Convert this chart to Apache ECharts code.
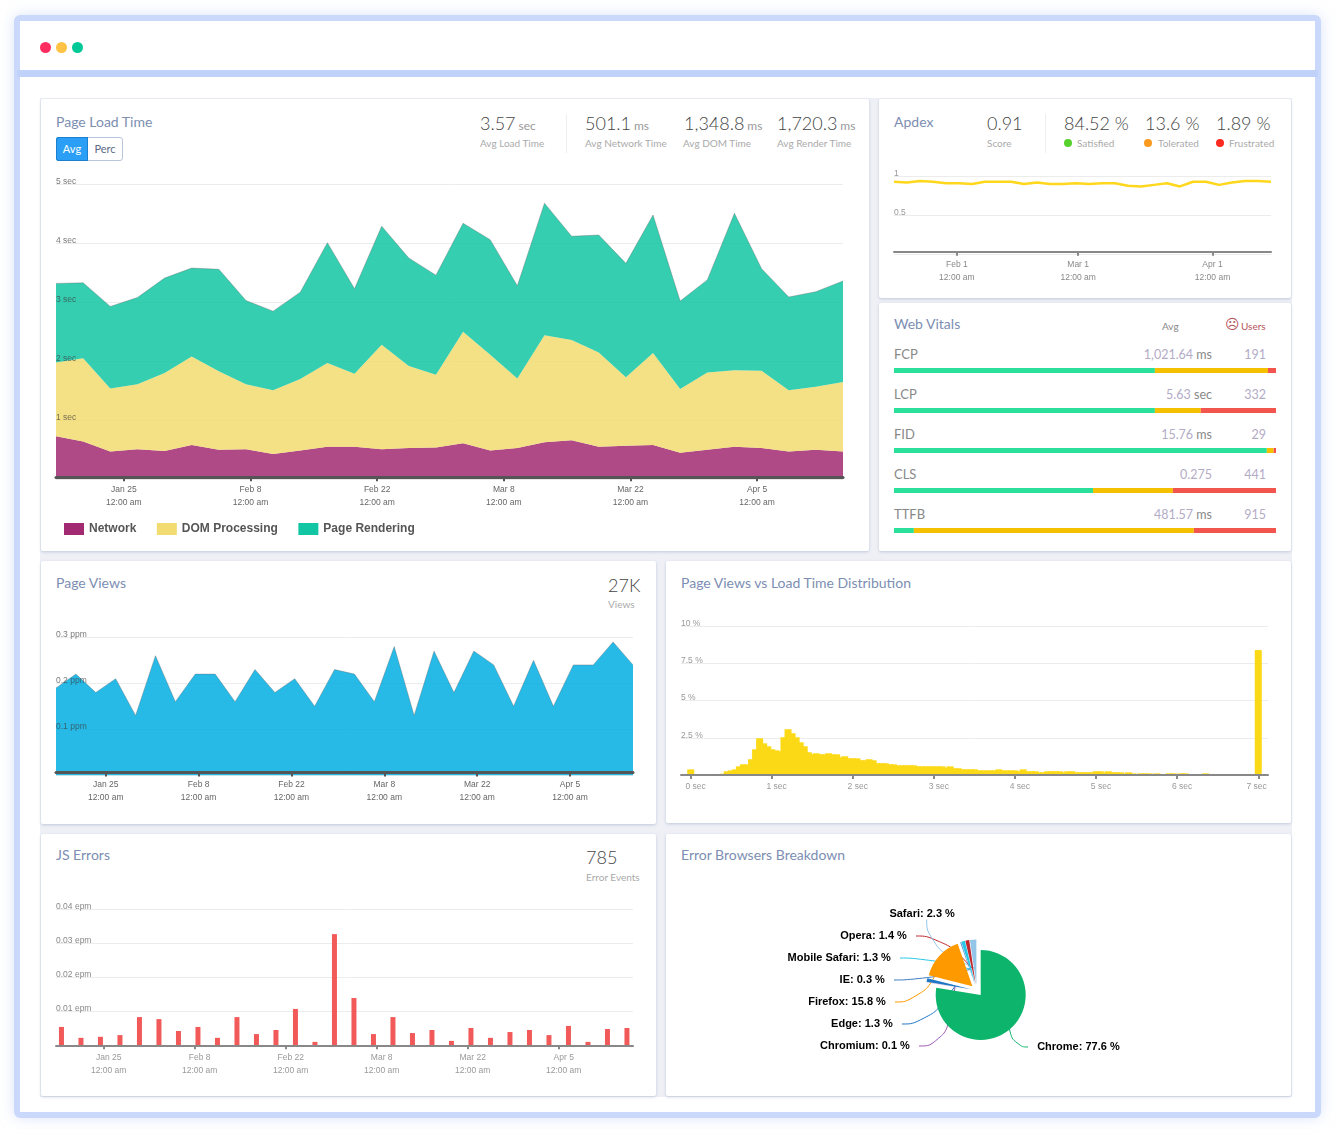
<!DOCTYPE html>
<html>
<head>
<meta charset="utf-8">
<title>Dashboard</title>
<script src="https://cdn.jsdelivr.net/npm/echarts@6/dist/echarts.min.js"></script>
<style>
	html, body { margin: 0; padding: 0; background: #fff; width: 1341px; height: 1137px; overflow: hidden; font-family: Lato, sans-serif; }
	#frame { position: absolute; left: 14px; top: 15px; width: 1295px; height: 1091px; border: 6px solid #c9d8fb; border-radius: 6px; box-shadow: 0 0 14px rgba(190, 205, 245, .55); }
	#sep { position: absolute; left: 17px; top: 70px; width: 1301px; height: 7px; background: #c1d2fa; }
	#gutter { position: absolute; left: 40px; top: 98px; width: 1252px; height: 999px; background: #eef0f6; }
	.dot { position: absolute; width: 11px; height: 11px; border-radius: 50%; top: 42px; }
	.card { position: absolute; background: #fff; border-radius: 2px; box-shadow: 0 1px 3px rgba(90, 105, 150, .3); }
	.t { position: absolute; white-space: nowrap; line-height: 1; transform: translateY(-50%); }
	.r { transform: translate(-100%, -50%); }
	.title { font-size: 14px; color: #7c8eb2; }
	.num { font-size: 18px; font-weight: 300; color: #444; }
	.num small { font-size: 12px; font-weight: 400; color: #999; margin-left: 3px; }
	.sub { font-size: 10px; color: #aaa; }
	.row { font-size: 13px; color: #888; }
	.val { font-size: 12.5px; color: #888; margin-top: 1px; }
	.val b { font-weight: normal; color: #b3abc6; }
	.mark { position: absolute; width: 8px; height: 8px; border-radius: 50%; top: 139px; }
	.line { position: absolute; width: 1px; background: #eee; top: 114px; height: 39px; }
	#btn { position: absolute; left: 56px; top: 137px; width: 65px; height: 22px; border: 1px solid #b9c5dc; border-radius: 3px; }
	#btn div { position: absolute; top: -1px; height: 24px; line-height: 24px; text-align: center; font-size: 11px; }
	#chart { position: absolute; left: 0; top: 0; width: 1341px; height: 1137px; }
</style>
</head>
<body>
<div id="frame"></div>
<div id="sep"></div>
<div class="dot" style="left:40px;background:#ff2d5f"></div>
<div class="dot" style="left:56px;background:#ffc244"></div>
<div class="dot" style="left:72px;background:#00c896"></div>

<div id="gutter"></div>
<div class="card" style="left:41px;top:99px;width:828px;height:452px"></div>
<div class="card" style="left:879px;top:99px;width:412px;height:199px"></div>
<div class="card" style="left:879px;top:303px;width:412px;height:248px"></div>
<div class="card" style="left:41px;top:561px;width:615px;height:263px"></div>
<div class="card" style="left:666px;top:561px;width:625px;height:262px"></div>
<div class="card" style="left:41px;top:834px;width:615px;height:262px"></div>
<div class="card" style="left:666px;top:834px;width:625px;height:262px"></div>

<!-- Page Load Time -->
<div class="t title" style="left:56px;top:122px">Page Load Time</div>
<div id="btn">
	<div style="left:-1px;width:32px;background:#2b9ff5;color:#fff;border-radius:3px 0 0 3px;box-shadow:inset 0 0 0 1px #1b80d0">Avg</div>
	<div style="left:31px;width:34px;color:#5b6b85">Perc</div>
</div>
<div class="t num" style="left:480px;top:123px">3.57<small>sec</small></div>
<div class="t sub" style="left:480px;top:143px">Avg Load Time</div>
<div class="line" style="left:566px"></div>
<div class="t num" style="left:585px;top:123px">501.1<small>ms</small></div>
<div class="t sub" style="left:585px;top:143px">Avg Network Time</div>
<div class="t num" style="left:684px;top:123px">1,348.8<small>ms</small></div>
<div class="t sub" style="left:683px;top:143px">Avg DOM Time</div>
<div class="t num" style="left:777px;top:123px">1,720.3<small>ms</small></div>
<div class="t sub" style="left:777px;top:143px">Avg Render Time</div>

<!-- Apdex -->
<div class="t title" style="left:894px;top:122px">Apdex</div>
<div class="t num" style="left:987px;top:123px">0.91</div>
<div class="t sub" style="left:987px;top:143px">Score</div>
<div class="line" style="left:1045px"></div>
<div class="t num" style="left:1064px;top:123px">84.52 %</div>
<div class="mark" style="left:1064px;background:#57d12e"></div>
<div class="t sub" style="left:1077px;top:143px">Satisfied</div>
<div class="t num" style="left:1145px;top:123px">13.6 %</div>
<div class="mark" style="left:1144px;background:#fb9a1e"></div>
<div class="t sub" style="left:1158px;top:143px">Tolerated</div>
<div class="t num" style="left:1216px;top:123px">1.89 %</div>
<div class="mark" style="left:1216px;background:#ff2a1f"></div>
<div class="t sub" style="left:1229px;top:143px">Frustrated</div>

<!-- Web Vitals -->
<div class="t title" style="left:894px;top:324px">Web Vitals</div>
<div class="t sub" style="left:1162px;top:326px;color:#888">Avg</div>
<div class="t" style="left:1225px;top:324px;font:14px 'DejaVu Sans';color:#b5555a">☹</div>
<div class="t sub" style="left:1241px;top:326px;color:#b5555a">Users</div>
<div class="t row" style="left:894px;top:354px">FCP</div>
<div class="t r val" style="left:1212px;top:354px"><b>1,021.64</b> ms</div>
<div class="t r val" style="left:1266px;top:354px"><b>191</b></div>
<div class="t row" style="left:894px;top:394px">LCP</div>
<div class="t r val" style="left:1212px;top:394px"><b>5.63</b> sec</div>
<div class="t r val" style="left:1266px;top:394px"><b>332</b></div>
<div class="t row" style="left:894px;top:434px">FID</div>
<div class="t r val" style="left:1212px;top:434px"><b>15.76</b> ms</div>
<div class="t r val" style="left:1266px;top:434px"><b>29</b></div>
<div class="t row" style="left:894px;top:474px">CLS</div>
<div class="t r val" style="left:1212px;top:474px"><b>0.275</b></div>
<div class="t r val" style="left:1266px;top:474px"><b>441</b></div>
<div class="t row" style="left:894px;top:514px">TTFB</div>
<div class="t r val" style="left:1212px;top:514px"><b>481.57</b> ms</div>
<div class="t r val" style="left:1266px;top:514px"><b>915</b></div>

<!-- lower cards -->
<div class="t title" style="left:56px;top:583px">Page Views</div>
<div class="t num" style="left:608px;top:585px">27K</div>
<div class="t sub" style="left:608px;top:604px">Views</div>
<div class="t title" style="left:681px;top:583px">Page Views vs Load Time Distribution</div>
<div class="t title" style="left:56px;top:855px">JS Errors</div>
<div class="t num" style="left:586px;top:857px">785</div>
<div class="t sub" style="left:586px;top:877px">Error Events</div>
<div class="t title" style="left:681px;top:855px">Error Browsers Breakdown</div>

<div id="chart"></div>

<script>
	//load time, seconds per 3 day bucket
	var networkTime = [.73, .64, .47, .51, .48, .58, .50, .51, .43, .49, .55, .55, .51, .53, .54, .61, .49, .53, .63, .66, .55, .57, .58, .45, .50, .55, .53, .47, .50, .47];
	var domTime = [1.25, 1.41, 1.07, 1.10, 1.32, 1.50, 1.33, 1.10, 1.08, 1.21, 1.42, 1.24, 1.77, 1.39, 1.23, 1.89, 1.62, 1.18, 1.81, 1.70, 1.60, 1.16, 1.56, 1.08, 1.31, 1.30, 1.31, 1.04, 1.07, 1.18];
	var renderTime = [1.34, 1.28, 1.39, 1.47, 1.61, 1.50, 1.73, 1.42, 1.34, 1.47, 2.04, 1.44, 2.01, 1.83, 1.69, 1.84, 1.95, 1.57, 2.24, 1.76, 1.99, 1.93, 2.34, 1.49, 1.57, 2.66, 1.73, 1.58, 1.61, 1.71];
	var apdexScore = [.93, .92, .94, .93, .91, .91, .90, .93, .93, .93, .90, .92, .90, .90, .91, .90, .91, .91, .88, .87, .89, .91, .87, .93, .93, .89, .92, .94, .94, .93];
	var pageViews = [.19, .22, .18, .21, .13, .26, .16, .22, .22, .16, .23, .18, .21, .15, .23, .22, .16, .28, .13, .27, .18, .27, .24, .15, .25, .15, .24, .24, .29, .24];
	var jsErrors = [.0054, .0022, .0025, .003, .0083, .0077, .0042, .0054, .0022, .0083, .0033, .0045, .0107, .001, .0327, .0139, .0033, .0083, .0036, .0045, .0013, .0051, .0022, .0039, .0045, .003, .0057, .001, .0048, .0051];

	//share of views per 0.05 sec bin, 0 to 7 sec
	var distShare = [
		.38, 0, 0, 0, 0, 0, 0, 0, .09, .25,
		.31, .38, .58, .72, .70, 1.06, 1.73, 2.47, 2.13, 1.93,
		1.73, 1.66, 1.6, 2.54, 3.08, 2.81, 2.54, 2.2, 1.93, 1.53,
		1.4, 1.46, 1.39, 1.39, 1.46, 1.39, 1.39, 1.19, 1.26, 1.12,
		1.12, 1.12, .99, .99, 1.06, .99, .79, .79, .79, .72,
		.72, .65, .65, .65, .65, .65, .58, .58, .58, .58,
		.58, .58, .58, .5, .58, .45, .45, .38, .38, .38,
		.38, .31, .31, .31, .31, .31, .38, .31, .31, .31,
		.31, .25, .38, .25, .25, .25, .18, .18, .25, .25,
		.25, .25, .18, .25, .25, .18, .18, .18, .18, .18,
		.25, .25, .18, .25, .18, .18, .18, .11, .18, .11,
		.07, .11, .11, .11, .07, .11, 0, 0, .11, .11,
		0, .11, .11, 0, 0, 0, 0, .11, 0, 0,
		0, 0, 0, 0, 0, 0, 0, 0, 0, 0,
		8.4
	];

	var vitalNames = ['FCP', 'LCP', 'FID', 'CLS', 'TTFB'];
	var vitalGood = [68.3, 68.3, 97.6, 52.1, 5.2];
	var vitalOk = [29.6, 12.0, 1.8, 20.9, 73.3];
	var vitalBad = [2.1, 19.7, .6, 27.0, 21.5];

	var browserNames = ['Chrome', 'Chromium', 'Edge', 'Firefox', 'IE', 'Mobile Safari', 'Opera', 'Safari'];
	var browserShare = [77.6, .1, 1.3, 15.8, .3, 1.3, 1.4, 2.3];
	var browserColors = ['#0db56c', '#9b59b6', '#1f77c4', '#ff9900', '#3d7cc0', '#26c6e6', '#c0282d', '#92c5e8'];

	//x axes count days from Jan 25
	var weekLabels = ['Jan 25', 'Feb 8', 'Feb 22', 'Mar 8', 'Mar 22', 'Apr 5'];
	var weekDays = [0, 14, 28, 42, 56, 70];
	var monthLabels = ['Feb 1', 'Mar 1', 'Apr 1'];
	var monthDays = [7, 35, 66];
	var secLabels = ['0 sec', '1 sec', '2 sec', '3 sec', '4 sec', '5 sec', '6 sec', '7 sec'];
	var secTicks = [0, 1, 2, 3, 4, 5, 6, 7];
	var secSpots = [.06, 1.06, 2.06, 3.06, 4.06, 5.06, 6.06, 6.98];

	//buckets every 3 days
	function timed(list, firstDay) {
		return list.map(function (v, i) { return [firstDay + 3 * i, v]; });
	}

	function timeAxis(gridIndex, days, labels, minDay, maxDay, offset, color, lineColor, lineWidth, padLeft) {
		return {
			type: 'value', gridIndex: gridIndex, position: 'bottom', offset: offset, min: minDay, max: maxDay, z: 5,
			axisLine: { onZero: false, lineStyle: { color: lineColor, width: lineWidth } },
			axisTick: { customValues: days, length: 4, lineStyle: { color: lineColor, width: 2 } },
			splitLine: { show: false },
			axisLabel: {
				customValues: days, color: color, fontSize: 8.5, fontFamily: 'Liberation Sans', lineHeight: 13, margin: 6,
				padding: [0, 0, 0, padLeft],
				formatter: function (v) { return labels[days.indexOf(v)] + '\n12:00 am'; }
			}
		};
	}

	function valueAxis(gridIndex, max, interval, unit, color) {
		return {
			type: 'value', gridIndex: gridIndex, position: 'left', min: 0, max: max, interval: interval,
			axisLine: { show: false }, axisTick: { show: false },
			splitLine: { lineStyle: { color: '#ececec', width: 1 } },
			axisLabel: {
				show: !!color, inside: true, margin: 0, align: 'left', verticalAlign: 'bottom', lineHeight: 5,
				color: color, fontSize: 8.5, fontFamily: 'Liberation Sans',
				formatter: function (v) { return v === 0 ? '' : (v + unit); }
			}
		};
	}

	//labels that sit over a filled area, series stay on the plain axis
	function overAxis(gridIndex, max, interval, unit, color) {
		var axis = valueAxis(gridIndex, max, interval, unit, color);
		axis.z = 5;
		axis.splitLine = { show: false };
		return axis;
	}

	function stackArea(name, list, color, edge) {
		return {
			name: name, type: 'line', stack: 'load', xAxisIndex: 6, yAxisIndex: 0, data: list,
			symbol: 'none', color: color, lineStyle: { width: edge ? 1 : 0, color: 'rgba(100,100,100,.35)' },
			areaStyle: { color: color, opacity: .85 }
		};
	}

	function vitalBar(list, color) {
		return {
			type: 'bar', stack: 'vital', xAxisIndex: 2, yAxisIndex: 2, data: list, barWidth: 5,
			itemStyle: { color: color }
		};
	}

	//invisible twin of the pie that carries labels and leader lines, selected labels ignore labelLayout
	function labelPie(radius, reach, names) {
		return {
			type: 'pie', center: [976.8, 990.4], radius: radius, startAngle: 90, silent: true,
			itemStyle: { color: 'rgba(0,0,0,0)' },
			data: browserNames.map(function (n, i) {
				var shown = names.indexOf(n) >= 0;
				return {
					name: n, value: browserShare[i],
					label: { show: shown },
					labelLine: { show: shown, lineStyle: { color: browserColors[i] } }
				};
			}),
			label: {
				color: '#000', fontSize: 11, fontWeight: 'bold', fontFamily: 'Liberation Sans',
				formatter: function (p) {
					//blanks keep the leader line off the text
					var text = p.name + ': ' + p.value + ' %';
					return p.name === 'Chrome' ? '\u00a0\u00a0\u00a0' + text : text + '\u00a0\u00a0\u00a0';
				}
			},
			labelLine: { smooth: .6, length: 12, length2: reach, lineStyle: { width: 1 } },
			labelLayout: function (p) {
				var s = pieSpots[p.dataIndex];
				return { x: s[0], y: s[1], align: s[2], verticalAlign: 'middle' };
			}
		};
	}

	var bucketNames = networkTime.map(function (v, i) { return String(-7.5 + 3 * i); });

	//label anchors for the pie, outer edge of text
	var pieSpots = [[1028, 1047, 'left'], [919, 1046, 'right'], [902, 1024, 'right'], [895, 1002, 'right'], [894, 980, 'right'], [900, 958, 'right'], [916, 936, 'right'], [964, 914, 'right']];

	var option = {
		animation: false,
		legend: {
			left: 64, top: 523, padding: 0, itemWidth: 20, itemHeight: 12, itemGap: 20.5, icon: 'rect',
			data: ['Network', 'DOM Processing', 'Page Rendering'],
			textStyle: { color: '#555', fontSize: 12, fontWeight: 'bold', fontFamily: 'Liberation Sans', padding: [3, 0, 0, 0] }
		},
		grid: [
			{ left: 56, top: 184.3, width: 787, height: 295 },
			{ left: 894, top: 176.3, width: 377, height: 78 },
			{ left: 894, top: 350.5, width: 382, height: 200 },
			{ left: 56, top: 637.3, width: 577, height: 138 },
			{ left: 681, top: 626.3, width: 587, height: 148.7 },
			{ left: 56, top: 909.3, width: 577, height: 136 }
		],
		xAxis: [
			timeAxis(0, weekDays, weekLabels, -7.5, 79.5, -2, '#666', '#555', 3, 0),
			timeAxis(1, monthDays, monthLabels, -7.5, 79.5, -2.5, '#888', '#888', 2, 0),
			{ type: 'value', gridIndex: 2, min: 0, max: 100, show: false },
			timeAxis(3, weekDays, weekLabels, -7.5, 79.5, -2.8, '#666', '#555', 3, 0),
			{
				type: 'value', gridIndex: 4, min: -.12, max: 7.12, z: 5,
				axisLine: { onZero: false, lineStyle: { color: '#888', width: 2 } },
				axisTick: { customValues: secTicks, length: 4, lineStyle: { color: '#888', width: 2 } },
				splitLine: { show: false },
				axisLabel: {
					customValues: secSpots, color: '#999', fontSize: 8.5, fontFamily: 'Liberation Sans', margin: 7,
					formatter: function (v) { return secLabels[secSpots.indexOf(v)]; }
				}
			},
			timeAxis(5, weekDays, weekLabels, -7.34, 81.43, 0, '#999', '#888', 2, 10),
			//stacking needs a category axis, ticks come from the first one
			{ type: 'category', gridIndex: 0, position: 'bottom', show: false, boundaryGap: false, data: bucketNames }
		],
		yAxis: [
			valueAxis(0, 5, 1, ' sec', ''),
			valueAxis(1, 1, .5, '', '#999'),
			{ type: 'category', gridIndex: 2, inverse: true, data: vitalNames, show: false },
			valueAxis(3, .3, .1, ' ppm', ''),
			valueAxis(4, 10, 2.5, ' %', '#999'),
			valueAxis(5, .04, .01, ' epm', '#888'),
			overAxis(0, 5, 1, ' sec', 'rgba(60,60,60,.7)'),
			overAxis(3, .3, .1, ' ppm', 'rgba(60,60,60,.7)')
		],
		series: [
			stackArea('Network', networkTime, '#a22a72', false),
			stackArea('DOM Processing', domTime, '#f2dc71', false),
			stackArea('Page Rendering', renderTime, '#12c5a3', true),
			{
				type: 'line', xAxisIndex: 1, yAxisIndex: 1, data: timed(apdexScore, -7.5), symbol: 'none',
				lineStyle: { color: '#ffd71c', width: 2.5 }
			},
			vitalBar(vitalGood, '#2ae09b'),
			vitalBar(vitalOk, '#f5c000'),
			vitalBar(vitalBad, '#f2544e'),
			{
				type: 'line', xAxisIndex: 3, yAxisIndex: 3, data: timed(pageViews, -7.5), symbol: 'none',
				lineStyle: { width: 1, color: 'rgba(100,100,100,.35)' }, areaStyle: { color: '#01aee3', opacity: .85 }
			},
			{
				type: 'bar', xAxisIndex: 4, yAxisIndex: 4, barWidth: 7,
				data: distShare.map(function (v, i) { return [i * .05, v]; }),
				itemStyle: { color: '#fcd916' }
			},
			{
				type: 'bar', xAxisIndex: 5, yAxisIndex: 5, barWidth: 5, data: timed(jsErrors, -6.5),
				itemStyle: { color: '#f25a5a' }
			},
			//exploded slices
			{
				type: 'pie', center: [976.8, 990.4], radius: 45, startAngle: 90, selectedMode: 'multiple', selectedOffset: 6,
				label: { show: false }, labelLine: { show: false },
				data: browserNames.map(function (n, i) {
					return { name: n, value: browserShare[i], selected: true, itemStyle: { color: browserColors[i] } };
				})
			},
			labelPie(50, 14, ['Chrome']),
			labelPie(45, 26, ['Firefox']),
			labelPie(22, 26, ['Chromium', 'Edge', 'IE', 'Mobile Safari', 'Opera', 'Safari'])
		]
	};

	var chart = echarts.init(document.getElementById('chart'));
	chart.setOption(option);
</script>
</body>
</html>
